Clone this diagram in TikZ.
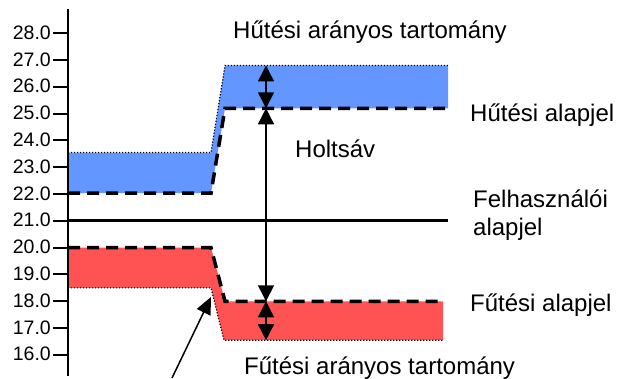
\documentclass[tikz,border=0pt]{standalone}
\usepackage{fontspec}
\setmainfont{Liberation Sans}
\usetikzlibrary{arrows.meta}
\definecolor{coolblue}{RGB}{100,150,255}
\definecolor{heatred}{RGB}{255,82,82}

\begin{document}
\begin{tikzpicture}[x=1pt,y=-1pt,
  axisline/.style={line width=2pt},
  ticklabel/.style={anchor=base east, inner sep=0pt, font=\fontsize{19.5}{22}\selectfont},
  label/.style={anchor=base west, inner sep=0pt, font=\fontsize{24}{28}\selectfont},
  setline/.style={line width=3.5pt, dash pattern=on 12pt off 7pt},
  bandedge/.style={line width=1.2pt, dash pattern=on 1.2pt off 1.8pt},
  userline/.style={line width=3pt},
  span/.style={line width=1.5pt, {Triangle[width=16pt,length=16pt]}-{Triangle[width=16pt,length=16pt]}},
  pointer/.style={line width=1.5pt, -{Triangle[width=15pt,length=17pt]}}
]
\useasboundingbox (0,0) rectangle (621,379);

% temperature scale: y = 33.3 + (28 - T) * 26.8
\foreach \t in {16,...,28} {
  \pgfmathsetmacro\yy{33.3+(28-\t)*26.8}
  \draw[axisline] (53,\yy) -- (68,\yy);
  \node[ticklabel] (lab\t) at (51,\yy+6) {\t.0};
}

% cooling proportional band
\fill[coolblue] (68,152.6) -- (211,152.6) -- (225,65.5) -- (448,65.5)
  -- (448,108.3) -- (225,108.3) -- (211,193.1) -- (68,193.1) -- cycle;
\draw[bandedge] (68,152.6) -- (211,152.6) -- (225,65.5) -- (448,65.5);
\draw[setline] (68,193.1) -- (211,193.1) -- (225,108.3) -- (448,108.3);

% heating proportional band
\fill[heatred] (68,247.7) -- (211,247.7) -- (225,301.3) -- (443,301.3)
  -- (443,340.2) -- (224,340.2) -- (211,287.9) -- (68,287.9) -- cycle;
\draw[bandedge] (68,287.9) -- (211,287.9) -- (224,340.2) -- (443,340.2);
\draw[setline] (68,247.7) -- (211,247.7) -- (225,301.3) -- (443,301.3);

% user setpoint
\draw[userline] (68,220.5) -- (448,220.5);

% axis
\draw[axisline] (68,9) -- (68,376);

% band and deadband spans
\coordinate (coolTop) at (266,65.5);
\coordinate (coolSet) at (266,108.3);
\coordinate (heatSet) at (266,301.3);
\coordinate (heatBot) at (266,340.2);
\draw[span] (coolTop) -- (coolSet);
\draw[span] (coolSet) -- (heatSet);
\draw[span] (heatSet) -- (heatBot);

% pointer to the heating band edge
\coordinate (ptrTail) at (172,378);
\coordinate (ptrTip) at (211,297);
\draw[pointer] (ptrTail) -- (ptrTip);

% labels
\node[label] (coolBand) at (233,39) {Hűtési arányos tartomány};
\node[label] (coolSp) at (470,122) {Hűtési alapjel};
\node[label] (dead) at (295,158) {Holtsáv};
\node[label] (user1) at (473,208) {Felhasználói};
\node[label] (user2) at (473,236) {alapjel};
\node[label] (heatSp) at (470,312) {Fűtési alapjel};
\node[label] (heatBand) at (244,374) {Fűtési arányos tartomány};
\end{tikzpicture}
\end{document}
